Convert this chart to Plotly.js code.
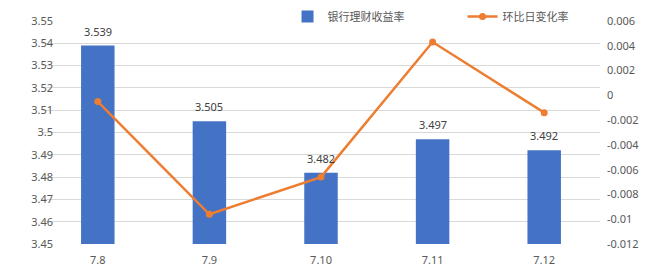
<!DOCTYPE html>
<html>
<head>
<meta charset="utf-8">
<script src="https://cdn.plot.ly/plotly-3.0.1.min.js"></script>
<style>html,body{margin:0;padding:0;background:#fff;}#chart{width:655px;height:274px;}</style>
</head>
<body>
<div id="chart"></div>
<script>
const categories = ["7.8", "7.9", "7.10", "7.11", "7.12"];
const yieldRate = [3.539, 3.505, 3.482, 3.497, 3.492];
const dailyChange = [-0.0005, -0.0096, -0.0066, 0.0043, -0.0014];
const yieldName = "银行理财收益率";
const changeName = "环比日变化率";
const leftTickVals = [3.45, 3.46, 3.47, 3.48, 3.49, 3.5, 3.51, 3.52, 3.53, 3.54, 3.55];
const leftTickText = ["3.45", "3.46", "3.47", "3.48", "3.49", "3.5", "3.51", "3.52", "3.53", "3.54", "3.55"];
const rightTickVals = [-0.012, -0.01, -0.008, -0.006, -0.004, -0.002, 0, 0.002, 0.004, 0.006];
const rightTickText = ["-0.012", "-0.01", "-0.008", "-0.006", "-0.004", "-0.002", "0", "0.002", "0.004", "0.006"];

const font = "'Noto Sans', 'Noto Sans CJK SC', sans-serif";

const traces = [
  {
    type: "bar",
    x: categories,
    y: yieldRate,
    name: yieldName,
    marker: {color: "#4472C4"},
    width: 0.3,
    yaxis: "y"
  },
  {
    type: "scatter",
    mode: "lines+markers",
    x: categories,
    y: dailyChange,
    name: changeName,
    line: {color: "#ED7D31", width: 2.5},
    marker: {color: "#ED7D31", size: 7},
    yaxis: "y2"
  }
];

const annotations = categories.map((c, i) => ({
  x: i,
  y: yieldRate[i],
  xref: "x",
  yref: "y",
  text: yieldRate[i].toFixed(3),
  showarrow: false,
  yanchor: "bottom",
  yshift: 5,
  font: {size: 11, color: "#404040", family: font}
}));

const layout = {
  width: 655,
  height: 274,
  margin: {l: 42, r: 55, t: 21, b: 30, autoexpand: false},
  paper_bgcolor: "#ffffff",
  plot_bgcolor: "#ffffff",
  font: {family: font, size: 11, color: "#595959"},
  bargap: 0.7,
  showlegend: true,
  annotations: annotations,
  legend: {
    orientation: "h",
    x: 0.44,
    xanchor: "left",
    y: 1.02,
    yanchor: "middle",
    bgcolor: "rgba(0,0,0,0)",
    font: {size: 11, color: "#595959", family: font},
    itemwidth: 30,
    entrywidth: 130
  },
  xaxis: {
    type: "category",
    showgrid: false,
    showline: false,
    ticks: "",
    ticklabelstandoff: 8,
    tickfont: {size: 11, color: "#595959"},
    automargin: false,
    fixedrange: true
  },
  yaxis: {
    range: [3.45, 3.55],
    tickvals: leftTickVals,
    ticktext: leftTickText,
    showgrid: true,
    gridcolor: "#D9D9D9",
    gridwidth: 1,
    zeroline: false,
    showline: false,
    ticks: "",
    automargin: false,
    ticklabelposition: "outside",
    ticklabelstandoff: -12,
    tickfont: {size: 11, color: "#595959"}
  },
  yaxis2: {
    overlaying: "y",
    side: "right",
    range: [-0.012, 0.006],
    tickvals: rightTickVals,
    ticktext: rightTickText,
    showgrid: false,
    zeroline: false,
    showline: false,
    ticks: "",
    automargin: false,
    ticklabelstandoff: 6,
    tickfont: {size: 11, color: "#595959"}
  }
};

Plotly.newPlot("chart", traces, layout, {displayModeBar: false, staticPlot: true});
</script>
</body>
</html>
